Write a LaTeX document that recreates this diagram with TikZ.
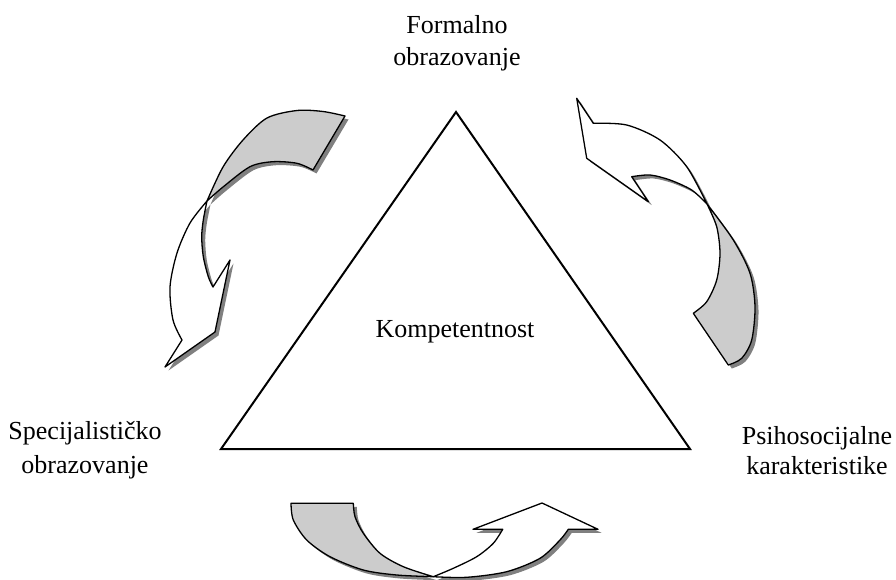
\documentclass[tikz,border=0pt]{standalone}
\usepackage{fontspec}
\setmainfont{Liberation Serif}
\begin{document}
\begin{tikzpicture}[x=1pt,y=-1pt,line join=round,
  lbl/.style={font=\fontsize{26}{32}\selectfont,align=center,inner sep=0pt,anchor=base},
  backside/.style={fill=backgray,draw=black,line width=1.3pt},
  frontside/.style={fill=white,draw=black,line width=1.3pt},
  shadowfill/.style={fill=shadowgray,xshift=3.5pt,yshift=-3.5pt}]
\definecolor{backgray}{HTML}{CCCCCC}
\definecolor{shadowgray}{HTML}{808080}
\useasboundingbox (0,0) rectangle (896,580);

% ---- arrow outlines ----
\def\Lback{plot[smooth] coordinates {(345,116)(323,111.5)(297,110.5)(267,118)(243,140)(223,167)(207,201)} -- plot[smooth] coordinates {(207,201)(223,187)(250,166.7)(273,161.7)(297,163.3)(313,170)} -- cycle}
\def\Lfront{plot[smooth] coordinates {(207,201)(190,223)(177,253)(170,287)(173,320)(182,340)} -- (165,367) -- (215,332) -- (230,260) -- plot[smooth] coordinates {(213,287)(208.3,276.7)(203.3,256.7)(201.7,236.7)(203.3,220)(207,201)} -- cycle}
\def\Rfront{plot[smooth] coordinates {(593.3,123.3)(626.7,125)(660,140)(686.7,166.7)(707,204)} -- plot[smooth] coordinates {(707,204)(691.7,190)(670,180)(650,175)(631.7,176.7)} -- (648.3,201.7) -- (586.7,158.3) -- (576.7,98.3) -- cycle}
\def\Rback{plot[smooth] coordinates {(707,204)(733.3,240)(750,273.3)(755,306.7)(751.7,340)(741.7,358.3)(728.3,365)} -- plot[smooth] coordinates {(693.3,313.3)(706.7,301.7)(716.7,280)(720,253.3)(716.7,226.7)(707,204)} -- cycle}
\def\Bback{plot[smooth] coordinates {(291,503.3)(293.3,520)(306.7,540)(330,556.7)(363.3,570)(396.7,575)(433.3,576.7)} -- plot[smooth] coordinates {(433.3,576.7)(403.3,566.7)(380,553.3)(363.3,533.3)(355,516.7)(353.3,503.3)} -- cycle}
\def\Bfront{plot[smooth] coordinates {(433.3,576.7)(466.7,577.3)(506.7,571.7)(540,558.3)(560,540)(568.3,529.3)} -- (598,529.3) -- (542,503) -- (473,529.3) -- plot[smooth] coordinates {(502.7,529.3)(493.3,543.3)(476.7,556.7)(453.3,568.3)(433.3,576.7)} -- cycle}

% shadows
\fill[shadowfill] \Lback;
\fill[shadowfill] \Lfront;
\fill[shadowfill] \Rback;
\fill[shadowfill] \Rfront;
\fill[shadowfill] \Bback;
\fill[shadowfill] \Bfront;
% arrows
\path[backside] \Lback;
\path[frontside] \Lfront;
\path[backside] \Rback;
\path[frontside] \Rfront;
\path[backside] \Bback;
\path[frontside] \Bfront;

% ---- triangle ----
\coordinate (apex) at (456,112);
\coordinate (bl) at (221,449);
\coordinate (br) at (690,449);
\fill[shadowgray,xshift=3.5pt,yshift=-3.5pt] (apex) -- (bl) -- (br) -- cycle;
\draw[fill=white,line width=2pt,line join=miter] (apex) -- (bl) -- (br) -- cycle;

% ---- labels ----
\node[lbl] (komp) at (455,337) {Kompetentnost};
\node[lbl] (formal) at (457,66) {Formalno\\obrazovanje};
\node[lbl,font=\fontsize{26}{34}\selectfont] (spec) at (85,473) {Specijalističko\\obrazovanje};
\node[lbl,font=\fontsize{26}{30}\selectfont] (psiho) at (817,474) {Psihosocijalne\\karakteristike};
\end{tikzpicture}
\end{document}
